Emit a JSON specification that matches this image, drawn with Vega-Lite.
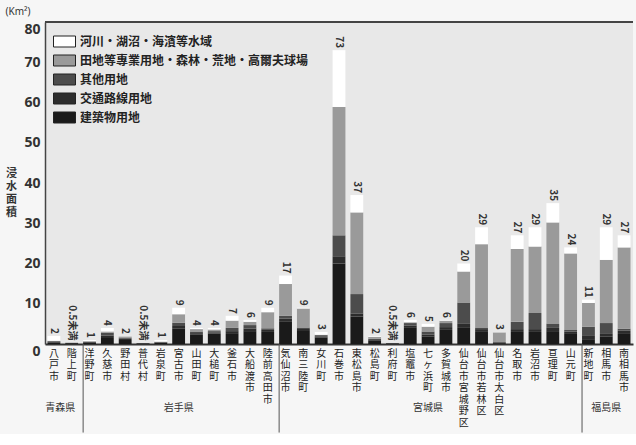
{
  "$schema": "https://vega.github.io/schema/vega-lite/v6.json",
  "width": 588,
  "height": 322,
  "padding": {"left": 5, "top": 7, "right": 3, "bottom": 0},
  "background": "#f6f6f6",
  "title": {"text": "(Km²)", "anchor": "start", "fontSize": 10, "fontWeight": "normal", "color": "#333", "offset": 4, "font": "Noto Sans"},
  "config": {"view": {"stroke": null, "fill": "#e8e8e8"}, "font": "Noto Sans CJK JP"},
  "datasets": {
    "d": [
      {"name": "八戸市", "建築物用地": 0.4, "交通路線用地": 0.1, "其他用地": 0.2, "田地等專業用地・森林・荒地・高爾夫球場": 0.1, "河川・湖沼・海濱等水域": 1.2, "total": 2, "label": "2"},
      {"name": "階上町", "建築物用地": 0.2, "交通路線用地": 0.05, "其他用地": 0.05, "田地等專業用地・森林・荒地・高爾夫球場": 0.05, "河川・湖沼・海濱等水域": 0.05, "total": 0.4, "label": "0.5未満"},
      {"name": "洋野町", "建築物用地": 0.4, "交通路線用地": 0.1, "其他用地": 0.1, "田地等專業用地・森林・荒地・高爾夫球場": 0.1, "河川・湖沼・海濱等水域": 0.3, "total": 1, "label": "1"},
      {"name": "久慈市", "建築物用地": 1.5, "交通路線用地": 0.6, "其他用地": 0.7, "田地等專業用地・森林・荒地・高爾夫球場": 0.3, "河川・湖沼・海濱等水域": 0.9, "total": 4, "label": "4"},
      {"name": "野田村", "建築物用地": 1.0, "交通路線用地": 0.3, "其他用地": 0.3, "田地等專業用地・森林・荒地・高爾夫球場": 0.3, "河川・湖沼・海濱等水域": 0.1, "total": 2, "label": "2"},
      {"name": "普代村", "建築物用地": 0.15, "交通路線用地": 0.05, "其他用地": 0.05, "田地等專業用地・森林・荒地・高爾夫球場": 0.05, "河川・湖沼・海濱等水域": 0.1, "total": 0.4, "label": "0.5未満"},
      {"name": "岩泉町", "建築物用地": 0.3, "交通路線用地": 0.1, "其他用地": 0.1, "田地等專業用地・森林・荒地・高爾夫球場": 0.1, "河川・湖沼・海濱等水域": 0.4, "total": 1, "label": "1"},
      {"name": "宮古市", "建築物用地": 3.8, "交通路線用地": 0.7, "其他用地": 0.8, "田地等專業用地・森林・荒地・高爾夫球場": 2.1, "河川・湖沼・海濱等水域": 1.6, "total": 9, "label": "9"},
      {"name": "山田町", "建築物用地": 2.3, "交通路線用地": 0.4, "其他用地": 0.4, "田地等專業用地・森林・荒地・高爾夫球場": 0.6, "河川・湖沼・海濱等水域": 0.3, "total": 4, "label": "4"},
      {"name": "大槌町", "建築物用地": 2.6, "交通路線用地": 0.3, "其他用地": 0.3, "田地等專業用地・森林・荒地・高爾夫球場": 0.4, "河川・湖沼・海濱等水域": 0.4, "total": 4, "label": "4"},
      {"name": "釜石市", "建築物用地": 2.5, "交通路線用地": 0.7, "其他用地": 0.8, "田地等專業用地・森林・荒地・高爾夫球場": 1.8, "河川・湖沼・海濱等水域": 1.2, "total": 7, "label": "7"},
      {"name": "大船渡市", "建築物用地": 3.2, "交通路線用地": 0.6, "其他用地": 0.9, "田地等專業用地・森林・荒地・高爾夫球場": 0.8, "河川・湖沼・海濱等水域": 0.5, "total": 6, "label": "6"},
      {"name": "陸前高田市", "建築物用地": 3.0, "交通路線用地": 0.5, "其他用地": 0.4, "田地等專業用地・森林・荒地・高爾夫球場": 4.0, "河川・湖沼・海濱等水域": 1.1, "total": 9, "label": "9"},
      {"name": "気仙沼市", "建築物用地": 5.5, "交通路線用地": 0.8, "其他用地": 0.7, "田地等專業用地・森林・荒地・高爾夫球場": 7.9, "河川・湖沼・海濱等水域": 2.1, "total": 17, "label": "17"},
      {"name": "南三陸町", "建築物用地": 3.2, "交通路線用地": 0.5, "其他用地": 0.4, "田地等專業用地・森林・荒地・高爾夫球場": 4.7, "河川・湖沼・海濱等水域": 0.2, "total": 9, "label": "9"},
      {"name": "女川町", "建築物用地": 1.6, "交通路線用地": 0.3, "其他用地": 0.3, "田地等專業用地・森林・荒地・高爾夫球場": 0.1, "河川・湖沼・海濱等水域": 0.7, "total": 3, "label": "3"},
      {"name": "石巻市", "建築物用地": 20.0, "交通路線用地": 1.8, "其他用地": 5.2, "田地等專業用地・森林・荒地・高爾夫球場": 31.9, "河川・湖沼・海濱等水域": 14.1, "total": 73, "label": "73"},
      {"name": "東松島市", "建築物用地": 6.8, "交通路線用地": 0.8, "其他用地": 4.8, "田地等專業用地・森林・荒地・高爾夫球場": 20.3, "河川・湖沼・海濱等水域": 4.3, "total": 37, "label": "37"},
      {"name": "松島町", "建築物用地": 0.8, "交通路線用地": 0.2, "其他用地": 0.3, "田地等專業用地・森林・荒地・高爾夫球場": 0.5, "河川・湖沼・海濱等水域": 0.2, "total": 2, "label": "2"},
      {"name": "利府町", "建築物用地": 0.15, "交通路線用地": 0.05, "其他用地": 0.05, "田地等專業用地・森林・荒地・高爾夫球場": 0.05, "河川・湖沼・海濱等水域": 0.1, "total": 0.4, "label": "0.5未満"},
      {"name": "塩竈市", "建築物用地": 4.0, "交通路線用地": 0.6, "其他用地": 0.6, "田地等專業用地・森林・荒地・高爾夫球場": 0.2, "河川・湖沼・海濱等水域": 0.6, "total": 6, "label": "6"},
      {"name": "七ヶ浜町", "建築物用地": 1.8, "交通路線用地": 0.5, "其他用地": 0.8, "田地等專業用地・森林・荒地・高爾夫球場": 1.2, "河川・湖沼・海濱等水域": 0.7, "total": 5, "label": "5"},
      {"name": "多賀城市", "建築物用地": 3.5, "交通路線用地": 0.7, "其他用地": 1.0, "田地等專業用地・森林・荒地・高爾夫球場": 0.6, "河川・湖沼・海濱等水域": 0.2, "total": 6, "label": "6"},
      {"name": "仙台市宮城野区", "建築物用地": 4.0, "交通路線用地": 1.0, "其他用地": 5.3, "田地等專業用地・森林・荒地・高爾夫球場": 7.7, "河川・湖沼・海濱等水域": 2.0, "total": 20, "label": "20"},
      {"name": "仙台市若林区", "建築物用地": 3.0, "交通路線用地": 0.7, "其他用地": 0.3, "田地等專業用地・森林・荒地・高爾夫球場": 20.8, "河川・湖沼・海濱等水域": 4.2, "total": 29, "label": "29"},
      {"name": "仙台市太白区", "建築物用地": 0.2, "交通路線用地": 0.1, "其他用地": 0.2, "田地等專業用地・森林・荒地・高爾夫球場": 2.4, "河川・湖沼・海濱等水域": 0.1, "total": 3, "label": "3"},
      {"name": "名取市", "建築物用地": 3.0, "交通路線用地": 0.7, "其他用地": 1.8, "田地等專業用地・森林・荒地・高爾夫球場": 18.1, "河川・湖沼・海濱等水域": 3.4, "total": 27, "label": "27"},
      {"name": "岩沼市", "建築物用地": 3.0, "交通路線用地": 0.7, "其他用地": 4.0, "田地等專業用地・森林・荒地・高爾夫球場": 16.5, "河川・湖沼・海濱等水域": 4.8, "total": 29, "label": "29"},
      {"name": "亘理町", "建築物用地": 3.2, "交通路線用地": 0.8, "其他用地": 1.0, "田地等專業用地・森林・荒地・高爾夫球場": 25.2, "河川・湖沼・海濱等水域": 4.8, "total": 35, "label": "35"},
      {"name": "山元町", "建築物用地": 2.5, "交通路線用地": 0.6, "其他用地": 0.4, "田地等專業用地・森林・荒地・高爾夫球場": 19.0, "河川・湖沼・海濱等水域": 1.5, "total": 24, "label": "24"},
      {"name": "新地町", "建築物用地": 1.2, "交通路線用地": 0.8, "其他用地": 2.3, "田地等專業用地・森林・荒地・高爾夫球場": 5.9, "河川・湖沼・海濱等水域": 0.8, "total": 11, "label": "11"},
      {"name": "相馬市", "建築物用地": 1.8, "交通路線用地": 0.7, "其他用地": 2.7, "田地等專業用地・森林・荒地・高爾夫球場": 15.7, "河川・湖沼・海濱等水域": 8.1, "total": 29, "label": "29"},
      {"name": "南相馬市", "建築物用地": 2.5, "交通路線用地": 0.8, "其他用地": 0.5, "田地等專業用地・森林・荒地・高爾夫球場": 20.2, "河川・湖沼・海濱等水域": 3.0, "total": 27, "label": "27"}
    ],
    "sep": [{"name": "洋野町"}, {"name": "気仙沼市"}, {"name": "新地町"}],
    "prefEdge": [{"name": "八戸市", "pref": "青森県"}],
    "prefMid": [{"name": "宮古市", "pref": "岩手県"}, {"name": "七ヶ浜町", "pref": "宮城県"}, {"name": "相馬市", "pref": "福島県"}]
  },
  "layer": [
    {
      "data": {"name": "d"},
      "transform": [
        {"fold": ["建築物用地", "交通路線用地", "其他用地", "田地等專業用地・森林・荒地・高爾夫球場", "河川・湖沼・海濱等水域"], "as": ["cat", "value"]},
        {"calculate": "indexof(['建築物用地', '交通路線用地', '其他用地', '田地等專業用地・森林・荒地・高爾夫球場', '河川・湖沼・海濱等水域'], datum.cat)", "as": "ord"}
      ],
      "mark": {"type": "bar"},
      "encoding": {
        "x": {
          "field": "name", "type": "nominal", "sort": null,
          "scale": {"paddingInner": 0.28, "paddingOuter": 0.14},
          "axis": {
            "title": null, "labelAngle": 0, "labelExpr": "split(datum.label, '')",
            "labelFontSize": 10, "labelLineHeight": 11.5, "labelBaseline": "top", "labelAlign": "center",
            "labelPadding": 4, "labelColor": "#222", "labelFont": "Noto Sans CJK JP", "labelOverlap": false,
            "ticks": false, "domainColor": "#333", "domainWidth": 2
          }
        },
        "y": {
          "field": "value", "type": "quantitative", "stack": "zero",
          "scale": {"domain": [0, 80], "nice": false},
          "axis": {
            "values": [0, 10, 20, 30, 40, 50, 60, 70, 80], "ticks": false, "grid": false,
            "domainColor": "#444", "domainWidth": 1.5,
            "labelFontSize": 14, "labelFontWeight": "bold", "labelColor": "#333", "labelFont": "Noto Sans", "labelPadding": 5,
            "labelBaseline": {"condition": {"test": "datum.value == 0 || datum.value == 80", "value": "top"}, "value": "middle"},
            "title": ["浸", "水", "面", "積"], "titleAngle": 0, "titleFontSize": 11, "titleLineHeight": 13, "titleFontWeight": "bold",
            "titleFont": "Noto Sans CJK TC", "titleColor": "#333", "titleX": -34, "titleY": 145, "titleBaseline": "top", "titleAlign": "center"
          }
        },
        "color": {
          "field": "cat", "type": "nominal",
          "scale": {
            "domain": ["河川・湖沼・海濱等水域", "田地等專業用地・森林・荒地・高爾夫球場", "其他用地", "交通路線用地", "建築物用地"],
            "range": ["#ffffff", "#9a9a9a", "#4c4c4c", "#2c2c2c", "#1a1a1a"]
          },
          "legend": {
            "title": null, "orient": "top-left", "offset": 8,
            "symbolType": "M-1,-0.5H1V0.5H-1Z", "symbolSize": 484, "symbolStrokeColor": "#222", "symbolStrokeWidth": 1,
            "labelFont": "Noto Sans CJK TC", "labelFontSize": 12, "labelFontWeight": "bold", "labelColor": "#222",
            "labelLimit": 400, "rowPadding": -3.5, "labelOffset": 4
          }
        },
        "order": {"field": "ord", "type": "quantitative"}
      }
    },
    {
      "data": {"name": "d"},
      "mark": {"type": "text", "angle": 90, "align": "right", "baseline": "middle", "dx": -2, "fontSize": 10, "fontWeight": "bold", "color": "#333"},
      "encoding": {
        "x": {"field": "name", "type": "nominal", "sort": null},
        "y": {"field": "total", "type": "quantitative"},
        "text": {"field": "label"}
      }
    },
    {
      "data": {"values": [{}]},
      "mark": {"type": "rule", "color": "#444", "strokeWidth": 2},
      "encoding": {"y": {"datum": 80}}
    },
    {
      "data": {"name": "sep"},
      "mark": {"type": "rule", "color": "#555", "strokeWidth": 1},
      "encoding": {
        "x": {"field": "name", "type": "nominal", "sort": null, "bandPosition": 0},
        "y": {"datum": 0},
        "y2": {"datum": -22}
      }
    },
    {
      "data": {"name": "prefEdge"},
      "mark": {"type": "text", "fontSize": 10, "color": "#333", "font": "Noto Sans CJK JP"},
      "encoding": {
        "x": {"field": "name", "type": "nominal", "sort": null, "bandPosition": 1},
        "y": {"datum": -16},
        "text": {"field": "pref"}
      }
    },
    {
      "data": {"name": "prefMid"},
      "mark": {"type": "text", "fontSize": 10, "color": "#333", "font": "Noto Sans CJK JP"},
      "encoding": {
        "x": {"field": "name", "type": "nominal", "sort": null},
        "y": {"datum": -16},
        "text": {"field": "pref"}
      }
    }
  ]
}
